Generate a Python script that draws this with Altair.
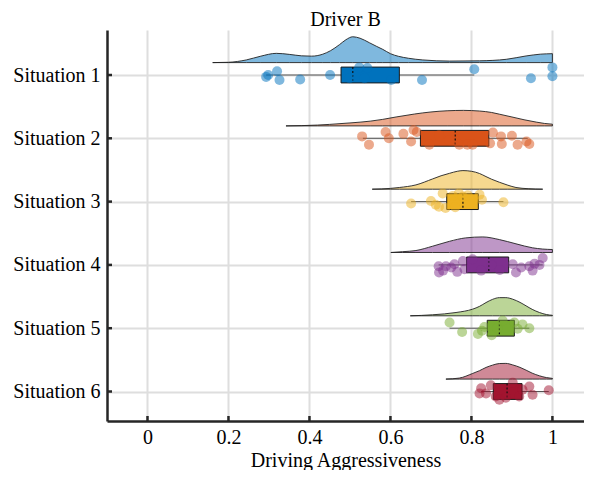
import altair as alt
import pandas as pd

situations = ["Situation 1", "Situation 2", "Situation 3", "Situation 4", "Situation 5", "Situation 6"]
colors = ["#0072BD", "#D95319", "#EDB120", "#7E2F8E", "#77AC30", "#A2142F"]
x_ticks = [0, 0.2, 0.4, 0.6, 0.8, 1]

# scatter points: aggressiveness value and vertical jitter (y-axis units)
pts_x = [
    [0.293, 0.298, 0.320, 0.326, 0.377, 0.451, 0.499, 0.523, 0.543, 0.536, 0.602, 0.678, 0.807, 0.947, 1.0, 1.0],
    [0.530, 0.547, 0.588, 0.596, 0.632, 0.651, 0.657, 0.665, 0.696, 0.720, 0.745, 0.770, 0.790, 0.803,
     0.853, 0.846, 0.873, 0.875, 0.900, 0.914, 0.936, 0.943],
    [0.651, 0.700, 0.712, 0.720, 0.736, 0.729, 0.754, 0.760, 0.769, 0.779, 0.791, 0.820, 0.826, 0.879],
    [0.719, 0.720, 0.730, 0.737, 0.750, 0.758, 0.765, 0.779, 0.783, 0.803, 0.824, 0.850, 0.870,
     0.902, 0.910, 0.923, 0.943, 0.951, 0.956, 0.968, 0.976],
    [0.746, 0.777, 0.816, 0.826, 0.832, 0.850, 0.864, 0.877, 0.906, 0.914, 0.926, 0.943],
    [0.820, 0.824, 0.836, 0.848, 0.860, 0.869, 0.885, 0.902, 0.918, 0.926, 0.943, 0.951, 0.991],
]
pts_dy = [
    [0.03, 0.0, -0.06, 0.08, 0.07, 0.0, 0.05, -0.12, -0.11, 0.05, 0.08, 0.08, -0.09, 0.05, -0.12, 0.02],
    [-0.03, 0.10, -0.10, 0.0, -0.07, 0.05, -0.13, -0.10, 0.10, -0.05, 0.03, 0.10, 0.10, 0.10,
     -0.09, 0.08, -0.03, 0.09, -0.04, 0.10, 0.05, 0.09],
    [0.03, -0.01, 0.05, 0.08, 0.10, -0.13, -0.09, 0.09, -0.13, -0.08, -0.10, -0.11, -0.03, 0.01],
    [0.02, 0.12, 0.09, 0.02, 0.04, -0.01, 0.11, -0.06, 0.07, -0.09, 0.09, 0.0, 0.08,
     -0.01, 0.12, 0.04, 0.02, 0.09, -0.02, 0.0, -0.11],
    [-0.09, 0.06, 0.09, 0.04, -0.02, 0.11, 0.0, -0.12, -0.09, 0.01, -0.06, 0.0],
    [0.03, -0.05, 0.03, -0.10, 0.08, 0.13, 0.10, -0.14, 0.08, -0.03, -0.08, 0.05, -0.02],
]

# box statistics
q1 = [0.478, 0.674, 0.739, 0.788, 0.839, 0.854]
med = [0.507, 0.760, 0.779, 0.843, 0.869, 0.888]
q3 = [0.622, 0.843, 0.817, 0.892, 0.906, 0.925]
w_lo = [0.293, 0.532, 0.651, 0.719, 0.746, 0.824]
w_hi = [0.807, 0.939, 0.879, 0.976, 0.943, 0.991]

# half-violin density curves (height in y-axis units)
dens_x = [
    [0.161, 0.20, 0.244, 0.28, 0.318, 0.35, 0.38, 0.405, 0.433, 0.452, 0.474, 0.49, 0.507, 0.525,
     0.548, 0.565, 0.581, 0.60, 0.62, 0.645, 0.68, 0.746, 0.82, 0.886, 0.935, 0.97, 1.0],
    [0.342, 0.42, 0.45, 0.50, 0.55, 0.58, 0.614, 0.66, 0.70, 0.74, 0.78, 0.82, 0.85, 0.87, 0.90,
     0.93, 0.96, 0.98, 1.0],
    [0.555, 0.60, 0.622, 0.663, 0.704, 0.725, 0.746, 0.765, 0.779, 0.80, 0.82, 0.836, 0.85, 0.869,
     0.89, 0.91, 0.94, 0.976],
    [0.601, 0.63, 0.663, 0.704, 0.746, 0.786, 0.828, 0.869, 0.91, 0.951, 0.975, 1.0],
    [0.649, 0.704, 0.762, 0.803, 0.82, 0.836, 0.852, 0.869, 0.885, 0.902, 0.92, 0.935, 0.95, 0.968,
     0.985, 1.0],
    [0.737, 0.77, 0.803, 0.82, 0.836, 0.852, 0.869, 0.885, 0.902, 0.92, 0.935, 0.95, 0.968, 0.985, 1.0],
]
dens_h = [
    [0, .005, .042, .102, .146, .130, .107, .102, .133, .188, .283, .361, .408, .385, .314, .259,
     .209, .141, .099, .068, .042, .024, .028, .052, .105, .133, .141],
    [0, .013, .024, .047, .075, .102, .141, .188, .220, .239, .245, .235, .212, .184, .141, .097,
     .060, .039, .027],
    [0, .013, .027, .068, .162, .212, .251, .283, .294, .283, .248, .199, .157, .110, .063, .027,
     .008, 0],
    [0, .013, .031, .099, .177, .231, .246, .204, .137, .074, .055, .047],
    [0, .016, .052, .105, .149, .209, .259, .287, .287, .262, .212, .157, .102, .052, .020, .008],
    [0, .016, .089, .133, .184, .220, .246, .248, .224, .185, .141, .094, .052, .024, .011],
]

BASE = 0.196   # gap between category line and density baseline
HALF = 0.125   # half height of box

dens_rows, pt_rows, box_rows = [], [], []
for i, s in enumerate(situations):
    k = i + 1
    for xv, hv in zip(dens_x[i], dens_h[i]):
        dens_rows.append({"sit": s, "x": xv, "yb": k - BASE, "yt": k - BASE - hv})
    for xv, dv in zip(pts_x[i], pts_dy[i]):
        pt_rows.append({"sit": s, "x": xv, "y": k + dv})
    box_rows.append({"sit": s, "k": k, "q1": q1[i], "med": med[i], "q3": q3[i],
                     "lo": w_lo[i], "hi": w_hi[i], "top": k - HALF, "bot": k + HALF})

dens_df = pd.DataFrame(dens_rows)
pts_df = pd.DataFrame(pt_rows)
box_df = pd.DataFrame(box_rows)
xt_df = pd.DataFrame({"v": x_ticks})

FONT = "Liberation Serif"
W, H = 477, 391

xscale = alt.Scale(domain=[-0.1, 1.078], nice=False, zero=False)
yscale = alt.Scale(domain=[0.289, 6.466], nice=False, zero=False, reverse=True)
xaxis = alt.Axis(values=x_ticks, format="~g", title="Driving Aggressiveness", grid=True,
                 ticks=False, tickSize=0, labelPadding=6, titleBaseline="alphabetic", titleY=45)
yaxis = alt.Axis(values=[1, 2, 3, 4, 5, 6], labelExpr="'Situation ' + datum.value", title=None,
                 grid=True, ticks=False, tickSize=0, labelPadding=7)


def X(f):
    return alt.X(f, type="quantitative", scale=xscale, axis=xaxis)


def Y(f):
    return alt.Y(f, type="quantitative", scale=yscale, axis=yaxis)


def FILL():
    return alt.Fill("sit:N", scale=alt.Scale(domain=situations, range=colors), legend=None)


density = alt.Chart(dens_df).mark_area(
    interpolate="monotone", fillOpacity=0.5, stroke="#222222", strokeWidth=0.9
).encode(x=X("x"), y=Y("yb"), y2="yt", fill=FILL(), detail="sit:N")

whisk = alt.Chart(box_df).mark_rule(color="#555555", strokeWidth=1).encode(
    x=X("lo"), x2="hi", y=Y("k"))

box = alt.Chart(box_df).mark_rect(stroke="#1a1a1a", strokeWidth=1).encode(
    x=X("q1"), x2="q3", y=Y("top"), y2="bot", fill=FILL())

median = alt.Chart(box_df).mark_rule(color="#111111", strokeWidth=1.2, strokeDash=[2, 2]).encode(
    x=X("med"), y=Y("top"), y2="bot")

points = alt.Chart(pts_df).mark_circle(size=100, fillOpacity=0.5, strokeWidth=0).encode(
    x=X("x"), y=Y("y"), fill=FILL())

xticks = alt.Chart(xt_df).mark_rule(color="#262626", strokeWidth=2.5).encode(
    x=X("v"), y=alt.value(H), y2=alt.value(H - 5))

yticks = alt.Chart(box_df).mark_rule(color="#262626", strokeWidth=2.5).encode(
    y=Y("k"), x=alt.value(0), x2=alt.value(5))

chart = alt.layer(density, whisk, box, median, points, xticks, yticks).properties(
    width=W, height=H,
    background="white",
    autosize=alt.AutoSizeParams(type="none"),
    padding={"left": 99, "top": 22, "right": 0, "bottom": 49},
    title=alt.Title("Driver B", font=FONT, fontSize=20, fontWeight="normal", color="#000000",
                    anchor="middle", frame="group", baseline="alphabetic", offset=4, dy=20),
).configure_view(stroke=None).configure_axis(
    labelFont=FONT, labelFontSize=20, labelColor="#000000",
    titleFont=FONT, titleFontSize=20, titleFontWeight="normal", titleColor="#000000",
    gridColor="#dedede", gridWidth=2, domainColor="#262626", domainWidth=2.5,
)

chart.save("out.html", embed_options={"renderer": "svg", "actions": False})
